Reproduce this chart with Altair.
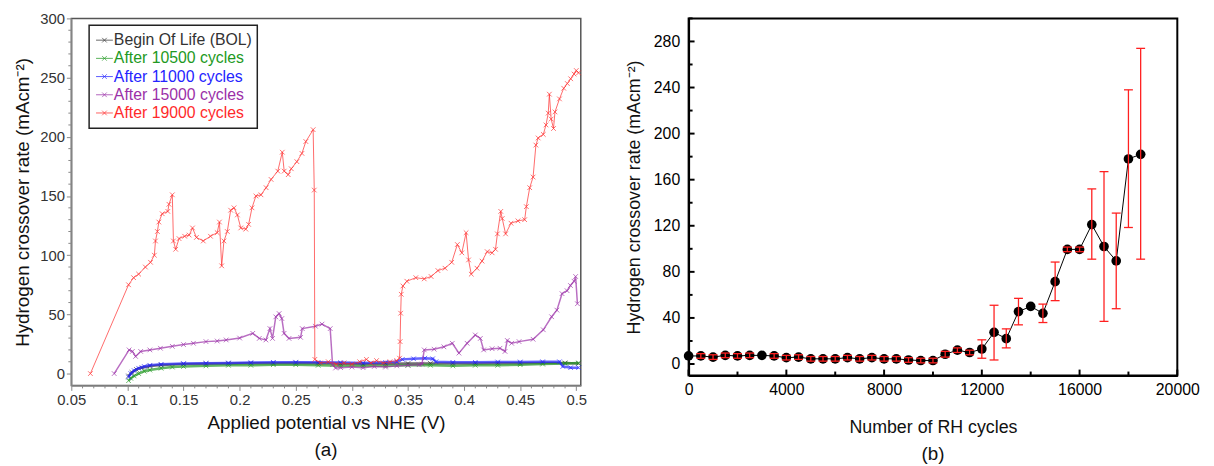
import altair as alt
import pandas as pd

FONT = "Liberation Sans"

# ---------------- Panel (a) data ----------------
series_names = ["Begin Of Life (BOL)", "After 10500 cycles", "After 11000 cycles",
                "After 15000 cycles", "After 19000 cycles"]
series_colors = ["#333333", "#229922", "#2424ff", "#9b30a8", "#ff2a2a"]

bol_x = [0.101, 0.104, 0.108, 0.113, 0.12, 0.13, 0.15, 0.17, 0.19, 0.21, 0.23, 0.25, 0.27,
         0.29, 0.31, 0.33, 0.35, 0.37, 0.39, 0.41, 0.43, 0.45, 0.47, 0.49, 0.502]
bol_y = [-2, 1, 3.5, 5, 6.3, 7.2, 8, 8.3, 8.5, 8.7, 8.8, 9, 8.7,
         8.3, 8, 8.3, 8.5, 8.6, 8.5, 8.6, 8.7, 8.8, 9, 9, 8.5]

c10500_x = [0.101, 0.103, 0.106, 0.11, 0.115, 0.12, 0.13, 0.14, 0.15, 0.17, 0.19, 0.21, 0.23,
            0.25, 0.27, 0.29, 0.31, 0.33, 0.35, 0.37, 0.39, 0.41, 0.43, 0.45, 0.47, 0.49, 0.502]
c10500_y = [-6, -4, -2, 0, 2, 3, 4.5, 5.5, 6, 6.5, 7, 7, 7.5,
            7.5, 7, 6.5, 6.5, 6.5, 7, 7, 6.5, 7, 7, 7.5, 8, 8.5, 9]

c11000_x = [0.101, 0.103, 0.106, 0.11, 0.115, 0.12, 0.13, 0.15, 0.17, 0.19, 0.21, 0.23, 0.25,
            0.27, 0.29, 0.31, 0.33, 0.34, 0.345, 0.355, 0.365, 0.372, 0.375, 0.39, 0.41, 0.43,
            0.45, 0.47, 0.485, 0.488, 0.495, 0.502]
c11000_y = [-3, 0, 2.5, 4.5, 6, 7, 7.8, 8.5, 8.8, 9, 9.3, 9.5, 9.6,
            9.5, 9.3, 9, 9.5, 10, 12, 12.5, 13, 12.5, 10, 9.5, 9.5, 9.8,
            9.8, 10, 10, 6, 5, 5]

c15000_x = [0.0882, 0.1015, 0.1044, 0.1073, 0.1118, 0.12, 0.1294, 0.14, 0.15, 0.1588,
            0.17, 0.18, 0.188, 0.20, 0.2117, 0.2175, 0.2234, 0.227, 0.2293, 0.2322,
            0.2352, 0.2376, 0.2396, 0.244, 0.2543, 0.2558, 0.2675, 0.2734, 0.2807, 0.2828,
            0.2855, 0.29, 0.30, 0.31, 0.32, 0.33, 0.34, 0.35, 0.36, 0.3625,
            0.3645, 0.3733, 0.382, 0.3895, 0.3954, 0.4027, 0.41, 0.4145, 0.4174, 0.425,
            0.432, 0.4365, 0.4385, 0.4424, 0.449, 0.4615, 0.4706, 0.478, 0.4827, 0.4873,
            0.4918, 0.4948, 0.498, 0.4994, 0.501]
c15000_y = [0, 20, 18.7, 14.5, 18.7, 20, 21.4, 23, 24.5, 25.6,
            27, 27.5, 28.4, 30, 34, 29.7, 28.4, 38, 29.7, 47.9,
            50.7, 46.5, 34, 29.7, 30.6, 38, 40, 41.8, 38, 7.5,
            4.7, 5, 5.5, 5, 6, 5.5, 6.5, 7, 7.5, 8,
            20, 20.6, 22.6, 25.6, 17.3, 25.6, 32.6, 29.7, 20, 21,
            21.4, 18.7, 28, 25.6, 27, 29, 37, 48, 53.6, 67.5,
            70, 74.4, 78, 82, 59]

c19000_x = [0.067, 0.101, 0.1055, 0.110, 0.116, 0.1206, 0.124, 0.125, 0.1267, 0.128,
            0.131, 0.136, 0.137, 0.140, 0.141, 0.143, 0.146, 0.151, 0.155, 0.158,
            0.1615, 0.1676, 0.174, 0.180, 0.182, 0.184, 0.186, 0.189, 0.192, 0.195,
            0.198, 0.201, 0.2055, 0.208, 0.211, 0.2145, 0.219, 0.2236, 0.228, 0.234,
            0.238, 0.2397, 0.2433, 0.246, 0.251, 0.2555, 0.259, 0.2655, 0.2665, 0.267,
            0.272, 0.279, 0.286, 0.293, 0.300, 0.307, 0.313, 0.317, 0.322, 0.328,
            0.334, 0.340, 0.3425, 0.343, 0.3435, 0.344, 0.3455, 0.349, 0.357, 0.3645,
            0.3706, 0.3767, 0.383, 0.389, 0.394, 0.398, 0.4018, 0.404, 0.4064, 0.4115,
            0.416, 0.4206, 0.425, 0.428, 0.4297, 0.4327, 0.434, 0.437, 0.4418, 0.448,
            0.454, 0.4555, 0.4585, 0.4615, 0.464, 0.466, 0.4706, 0.473, 0.475, 0.476,
            0.4776, 0.4797, 0.481, 0.485, 0.4888, 0.492, 0.495, 0.498, 0.500, 0.502]
c19000_y = [0, 75, 81, 84, 90, 94, 100, 112, 120, 128,
            135, 137, 143, 151, 112, 105, 114, 116, 117, 123,
            115, 112, 116, 119, 128, 91, 112, 120, 138, 140,
            134, 123, 122, 126, 140, 150, 151, 157, 164, 171,
            187, 171, 168, 173, 179, 186, 196, 206, 155, 12,
            9, 10, 8, 9, 8, 10, 12, 9, 11, 9,
            10, 11, 13, 27, 51, 67, 74, 78, 81, 80,
            82, 87, 89, 94, 109, 102, 119, 96, 84, 89,
            95, 103, 102, 105, 118, 137, 131, 118, 127, 129,
            130, 141, 157, 166, 193, 199, 202, 210, 220, 236,
            215, 207, 221, 232, 241, 245, 249, 253, 256, 254]

series_x = [bol_x, c10500_x, c11000_x, c15000_x, c19000_x]
series_y = [bol_y, c10500_y, c11000_y, c15000_y, c19000_y]
series_lw = [2.5, 2.5, 2.5, 1.5, 1.0]

a_x_major = [0.05, 0.1, 0.15, 0.2, 0.25, 0.3, 0.35, 0.4, 0.45, 0.5]
a_x_minor = [round(0.05 + 0.01 * k, 2) for k in range(46) if k % 5 != 0]
a_y_major = [0, 50, 100, 150, 200, 250, 300]
a_y_minor = [v for v in range(0, 301, 10) if v % 50 != 0]

# ---------------- Panel (b) data ----------------
cycles = [0, 500, 1000, 1500, 2000, 2500, 3000, 3500, 4000, 4500, 5000, 5500, 6000, 6500,
          7000, 7500, 8000, 8500, 9000, 9500, 10000, 10500, 11000, 11500, 12000, 12500,
          13000, 13500, 14000, 14500, 15000, 15500, 16000, 16500, 17000, 17500, 18000, 18500]
rate = [7, 7, 6, 7.5, 7, 7.5, 7.5, 7, 5.5, 6, 4.5, 4.5, 4.5, 5.5,
        4.5, 5.5, 4.5, 4.5, 3.5, 3, 3, 8.5, 12, 10, 13, 27.5,
        22, 45.5, 50, 44, 71.5, 99.5, 99.5, 121, 102, 89.5, 178, 182]
err_lo = [None, 5, 4, 5.5, 5, 5.5, None, 5, 3.5, 4, 2.5, 2.5, 2.5, 3.5,
          2.5, 3.5, 2.5, 2.5, 1.5, 1, 1, 6, 10, 8, 5, 3.5,
          14, 34, None, 36, 55, 97.5, 97.5, 91, 37, 48, 118.5, 91]
err_hi = [None, 9, 8, 9.5, 9, 9.5, None, 9, 7.5, 8, 6.5, 6.5, 6.5, 7.5,
          6.5, 7.5, 6.5, 6.5, 5.5, 5, 5, 11, 14, 12, 21, 51,
          30.5, 57, None, 52, 88.5, 101.5, 101.5, 152, 167, 131, 238, 274]

b_x_major = [0, 4000, 8000, 12000, 16000, 20000]
b_x_minor = [2000, 6000, 10000, 14000, 18000]
b_y_major = [0, 40, 80, 120, 160, 200, 240, 280]
b_y_minor = [20, 60, 100, 140, 180, 220, 260, 300]

# ---------------- Panel (a) chart ----------------
W1, H1 = 515, 371
Y1_DOM = [-10, 300]
XPATH = "M-1,-1L1,1M1,-1L-1,1"

ax_a_x = alt.Axis(values=a_x_major, format="~g", title="Applied potential vs NHE (V)",
                  grid=False, tickSize=5, labelPadding=2, titlePadding=7,
                  domainColor="#888888", domainWidth=1.5, tickColor="#888888",
                  labelColor="#333333", titleColor="#111111", labelFontSize=15,
                  titleFontSize=19, labelFont=FONT, titleFont=FONT, titleFontWeight="normal",
                  labelFlush=False, labelOverlap=False)
ax_a_y = alt.Axis(values=a_y_major, title="Hydrogen crossover rate (mAcm⁻²)",
                  grid=False, tickSize=5, labelPadding=2, titlePadding=7,
                  domainColor="#888888", domainWidth=1.5, tickColor="#888888",
                  labelColor="#333333", titleColor="#111111", labelFontSize=15,
                  titleFontSize=19, labelFont=FONT, titleFont=FONT, titleFontWeight="normal",
                  labelFlush=False, labelOverlap=False)
sx_a = alt.Scale(domain=[0.05, 0.504], nice=False, zero=False)
sy_a = alt.Scale(domain=Y1_DOM, nice=False, zero=False)

layers_a = []
for name, col, xs, ys, lw in zip(series_names, series_colors, series_x, series_y, series_lw):
    df = pd.DataFrame({"x": xs, "y": ys, "i": list(range(len(xs)))})
    base = alt.Chart(df).encode(
        x=alt.X("x:Q", scale=sx_a, axis=ax_a_x),
        y=alt.Y("y:Q", scale=sy_a, axis=ax_a_y),
    )
    layers_a.append(base.mark_line(color=col, strokeWidth=lw, opacity=0.7).encode(order="i:Q"))
    layers_a.append(base.mark_point(shape=XPATH, filled=False, color=col, size=22,
                                    strokeWidth=0.9, opacity=0.75))

minor_x_a = alt.Chart(pd.DataFrame({"x": a_x_minor})).mark_rule(color="#888888", strokeWidth=1).encode(
    x=alt.X("x:Q", scale=sx_a, axis=ax_a_x), y=alt.value(H1), y2=alt.value(H1 + 3))
minor_y_a = alt.Chart(pd.DataFrame({"y": a_y_minor})).mark_rule(color="#888888", strokeWidth=1).encode(
    y=alt.Y("y:Q", scale=sy_a, axis=ax_a_y), x=alt.value(0), x2=alt.value(-3))

# legend (inside plot, top-left)
leg_df = pd.DataFrame({"name": series_names, "idx": list(range(len(series_names)))})
color_scale = alt.Scale(domain=series_names, range=series_colors)
leg_base = alt.Chart(leg_df).transform_calculate(
    ly=f"{Y1_DOM[1]} - (22 + datum.idx * 18.4) * {Y1_DOM[1] - Y1_DOM[0]} / {H1}"
)
leg_box = alt.Chart(pd.DataFrame({"k": [0]})).mark_rect(
    fill="white", stroke="#222222", strokeWidth=1.5).encode(
    x=alt.value(18), x2=alt.value(188), y=alt.value(7), y2=alt.value(111))
leg_line = leg_base.mark_rule(strokeWidth=1, opacity=0.75).encode(
    x=alt.value(25), x2=alt.value(42),
    y=alt.Y("ly:Q", scale=sy_a, axis=ax_a_y),
    color=alt.Color("name:N", scale=color_scale, legend=None))
leg_pt = leg_base.mark_point(shape=XPATH, filled=False, size=22, strokeWidth=0.9, opacity=0.75).encode(
    x=alt.value(33.5),
    y=alt.Y("ly:Q", scale=sy_a, axis=ax_a_y),
    color=alt.Color("name:N", scale=color_scale, legend=None))
leg_txt = leg_base.mark_text(align="left", baseline="middle", fontSize=16, font=FONT).encode(
    x=alt.value(43),
    y=alt.Y("ly:Q", scale=sy_a, axis=ax_a_y),
    text="name:N",
    color=alt.Color("name:N", scale=color_scale, legend=None))

panel_a = alt.layer(*layers_a, minor_x_a, minor_y_a, leg_box, leg_line, leg_pt, leg_txt).properties(
    width=W1, height=H1,
    view=alt.ViewBackground(stroke="#555555", strokeWidth=1.5),
    title=alt.TitleParams("(a)", orient="bottom", anchor="middle", frame="group", offset=8,
                          fontSize=19, font=FONT, fontWeight="normal", color="#111111"),
)

# ---------------- Panel (b) chart ----------------
W2, H2 = 494, 361
ax_b_x = alt.Axis(values=b_x_major, format="d", title="Number of RH cycles", grid=False,
                  ticks=False, labelPadding=6, titlePadding=22, domainColor="black",
                  domainWidth=2, labelColor="black", titleColor="#111111", labelFontSize=16,
                  titleFontSize=18, labelFont=FONT, titleFont=FONT, titleFontWeight="normal",
                  labelFlush=False, labelOverlap=False)
ax_b_y = alt.Axis(values=b_y_major, title="Hydrogen crossover rate (mAcm⁻²)", grid=False,
                  ticks=False, labelPadding=9, titlePadding=10, domainColor="black",
                  domainWidth=2, labelColor="black", titleColor="#111111", labelFontSize=16,
                  titleFontSize=18, labelFont=FONT, titleFont=FONT, titleFontWeight="normal",
                  labelFlush=False, labelOverlap=False)
sx_b = alt.Scale(domain=[0, 20000], nice=False)
sy_b = alt.Scale(domain=[-10, 300], nice=False, zero=False)

df_b = pd.DataFrame({"cycles": cycles, "rate": rate, "lo": err_lo, "hi": err_hi})
base_b = alt.Chart(df_b).encode(x=alt.X("cycles:Q", scale=sx_b, axis=ax_b_x))
line_b = base_b.mark_line(color="black", strokeWidth=1).encode(
    y=alt.Y("rate:Q", scale=sy_b, axis=ax_b_y))
dots_b = base_b.mark_circle(color="black", size=95, opacity=1).encode(
    y=alt.Y("rate:Q", scale=sy_b, axis=ax_b_y))
err_base = base_b.transform_filter("isValid(datum.lo) && isFinite(datum.lo)")
err_v = err_base.mark_rule(color="#ff2020", strokeWidth=1.3).encode(
    y=alt.Y("lo:Q", scale=sy_b, axis=ax_b_y), y2="hi:Q")
cap_lo = err_base.mark_rule(color="#ff2020", strokeWidth=1.3, xOffset=-4.5, x2Offset=4.5).encode(
    x2="cycles:Q", y=alt.Y("lo:Q", scale=sy_b, axis=ax_b_y))
cap_hi = err_base.mark_rule(color="#ff2020", strokeWidth=1.3, xOffset=-4.5, x2Offset=4.5).encode(
    x2="cycles:Q", y=alt.Y("hi:Q", scale=sy_b, axis=ax_b_y))

tick_xM = alt.Chart(pd.DataFrame({"cycles": b_x_major})).mark_rule(color="black", strokeWidth=2).encode(
    x=alt.X("cycles:Q", scale=sx_b, axis=ax_b_x), y=alt.value(H2), y2=alt.value(H2 - 6))
tick_xm = alt.Chart(pd.DataFrame({"cycles": b_x_minor})).mark_rule(color="black", strokeWidth=2).encode(
    x=alt.X("cycles:Q", scale=sx_b, axis=ax_b_x), y=alt.value(H2), y2=alt.value(H2 - 4))
tick_yM = alt.Chart(pd.DataFrame({"rate": b_y_major})).mark_rule(color="black", strokeWidth=2).encode(
    y=alt.Y("rate:Q", scale=sy_b, axis=ax_b_y), x=alt.value(0), x2=alt.value(6))
tick_ym = alt.Chart(pd.DataFrame({"rate": b_y_minor})).mark_rule(color="black", strokeWidth=2).encode(
    y=alt.Y("rate:Q", scale=sy_b, axis=ax_b_y), x=alt.value(0), x2=alt.value(4))

panel_b = alt.layer(line_b, dots_b, err_v, cap_lo, cap_hi, tick_xM, tick_xm, tick_yM, tick_ym).properties(
    width=W2, height=H2,
    view=alt.ViewBackground(stroke="black", strokeWidth=2),
    title=alt.TitleParams("(b)", orient="bottom", anchor="middle", frame="group", offset=8,
                          fontSize=19, font=FONT, fontWeight="normal", color="#111111"),
)

chart = alt.hconcat(panel_a, panel_b, spacing=37).properties(
    padding={"left": 5, "top": 0, "right": 5, "bottom": 5},
    background="white",
)

chart.save("out.html", embed_options={"renderer": "svg", "actions": False})
